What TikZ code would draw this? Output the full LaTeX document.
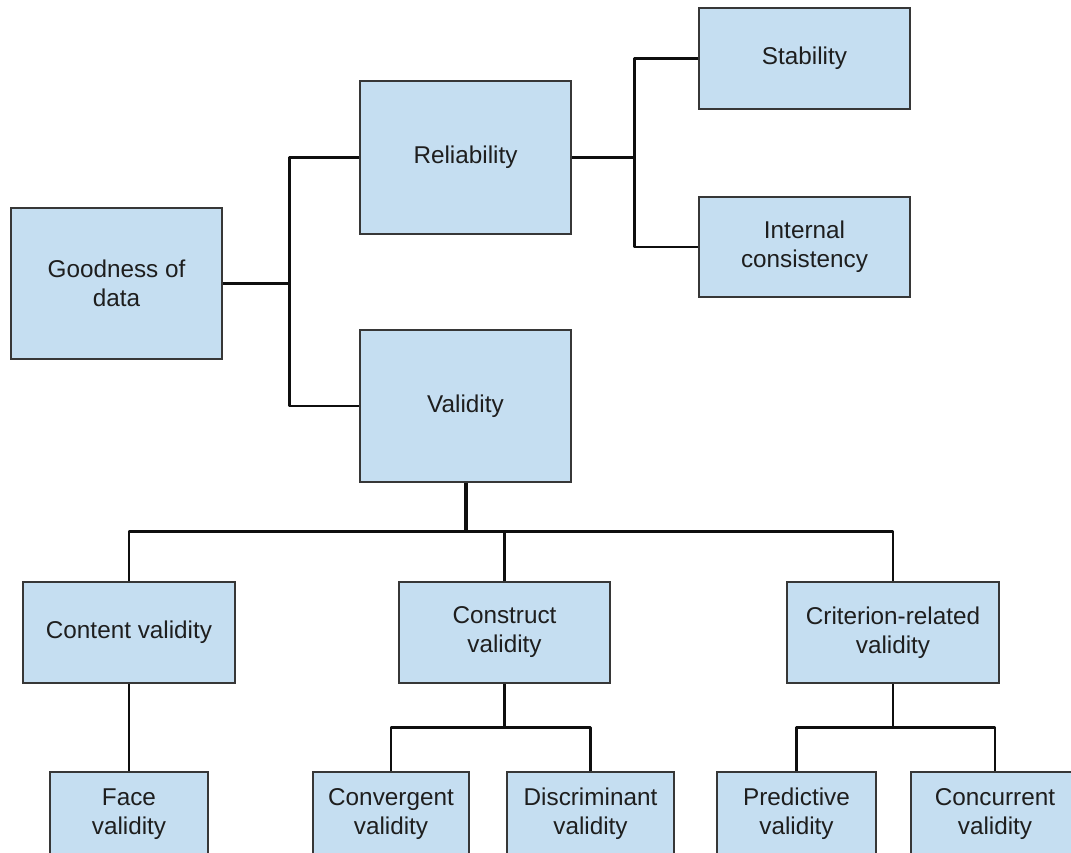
\documentclass[tikz,border=0pt]{standalone}
\usepackage{fontspec}
\setmainfont{Liberation Sans}
\definecolor{boxfill}{RGB}{197,222,241}
\definecolor{boxline}{RGB}{55,55,55}
\definecolor{textc}{RGB}{30,30,30}
\definecolor{linec}{RGB}{15,15,15}
\begin{document}
\begin{tikzpicture}[x=1pt,y=-1pt,
  box/.style={draw=boxline, fill=boxfill, line width=1.5pt, align=center,
    font=\fontsize{24.3}{29}\selectfont, inner sep=0pt, text=textc},
  conn/.style={draw=linec, line width=2.5pt, line join=round}]
\useasboundingbox (0,0) rectangle (1071,852);
\clip (0,0) rectangle (1071,852);
\fill[white] (0,0) rectangle (1071,852);

\node[box, minimum width=211pt, minimum height=151pt] (g) at (116.5,283.5) {Goodness of\\data};
\node[box, minimum width=211pt, minimum height=153pt] (rel) at (465.5,157.5) {Reliability};
\node[box, minimum width=211pt, minimum height=152pt] (val) at (465.5,406) {Validity};
\node[box, minimum width=211pt, minimum height=101pt] (sta) at (804.5,58.5) {Stability};
\node[box, minimum width=211pt, minimum height=100pt] (int) at (804.5,247) {Internal\\consistency};
\node[box, minimum width=212pt, minimum height=101pt] (con) at (129,632.5) {Content validity};
\node[box, minimum width=211pt, minimum height=101pt] (cst) at (504.5,632.5) {Construct\\validity};
\node[box, minimum width=212pt, minimum height=101pt] (cri) at (893,632.5) {Criterion-related\\validity};
\node[box, minimum width=158pt, minimum height=84pt] (face) at (129,814) {Face\\validity};
\node[box, minimum width=156pt, minimum height=84pt] (conv) at (391,814) {Convergent\\validity};
\node[box, minimum width=167pt, minimum height=84pt] (disc) at (590.5,814) {Discriminant\\validity};
\node[box, minimum width=159pt, minimum height=84pt] (pred) at (796.5,814) {Predictive\\validity};
\node[box, minimum width=168pt, minimum height=84pt] (conc) at (995,814) {Concurrent\\validity};

% Goodness -> Reliability / Validity
\draw[conn] (g.east) -- ++(68,0);
\draw[conn] (rel.west) -- ++(-70,0) |- (val.west);
% Reliability -> Stability / Internal consistency
\draw[conn] (rel.east) -- ++(64,0);
\draw[conn] (sta.west) -- ++(-64,0) |- (int.west);
% Validity -> three kinds
\draw[conn, line width=4pt] (val.south) -- ++(0,50);
\draw[conn] (con.north) -- ++(0,-50) -| (cri.north);
\draw[conn] (cst.north) -- ++(0,-50);
% Content -> Face
\draw[conn] (con.south) -- (face.north);
% Construct -> Convergent / Discriminant
\draw[conn] (cst.south) -- ++(0,45);
\draw[conn] (conv.north) -- ++(0,-44) -| (disc.north);
% Criterion -> Predictive / Concurrent
\draw[conn] (cri.south) -- ++(0,45);
\draw[conn] (pred.north) -- ++(0,-44) -| (conc.north);
\end{tikzpicture}
\end{document}
